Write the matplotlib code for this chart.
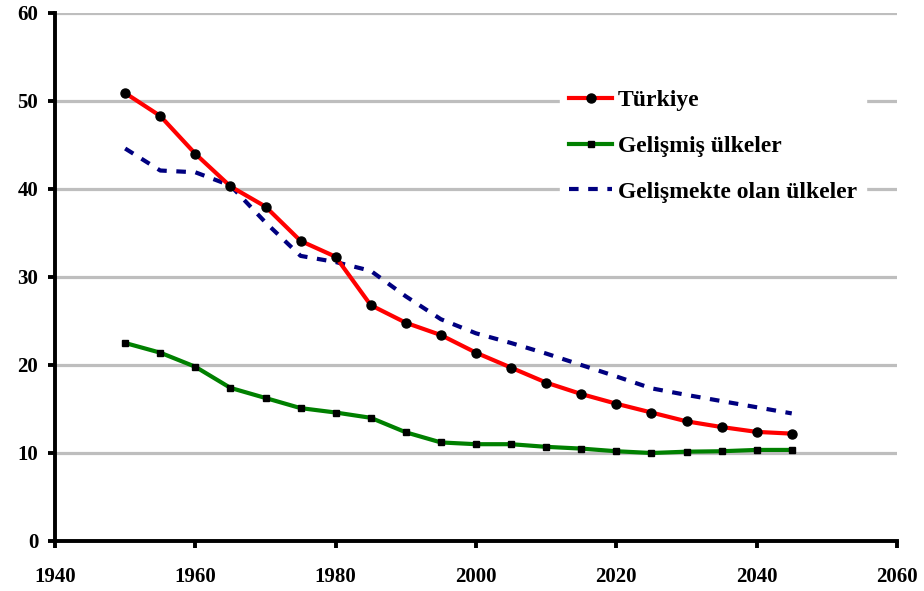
import matplotlib
matplotlib.use("Agg")
import matplotlib.pyplot as plt

years = [1950, 1955, 1960, 1965, 1970, 1975, 1980, 1985, 1990, 1995,
         2000, 2005, 2010, 2015, 2020, 2025, 2030, 2035, 2040, 2045]
turkiye = [50.9, 48.3, 44.0, 40.3, 38.0, 34.1, 32.3, 26.8, 24.8, 23.4,
           21.4, 19.7, 18.0, 16.7, 15.6, 14.6, 13.6, 12.95, 12.4, 12.2]
gelismis = [22.5, 21.4, 19.8, 17.4, 16.25, 15.1, 14.6, 14.0, 12.35, 11.2,
            11.0, 11.0, 10.7, 10.5, 10.2, 10.0, 10.15, 10.2, 10.35, 10.35]
gelismekte = [44.6, 42.1, 41.9, 40.4, 36.2, 32.4, 31.7, 30.7, 27.8, 25.2,
              23.6, 22.5, 21.3, 20.0, 18.7, 17.35, 16.6, 15.9, 15.2, 14.5]
labels = ["Türkiye", "Gelişmiş ülkeler", "Gelişmekte olan ülkeler"]
xticks = [1940, 1960, 1980, 2000, 2020, 2040, 2060]
yticks = [0, 10, 20, 30, 40, 50, 60]

plt.rcParams['font.family'] = ['Liberation Serif', 'DejaVu Serif']
plt.rcParams['font.weight'] = 'bold'

fig = plt.figure(figsize=(9.24, 5.91), dpi=100)
ax = fig.add_axes([55/924, 1-541/591, (897-55)/924, (541-13)/591])

ax.plot(years, turkiye, color='#FF0000', lw=3, marker='o', markersize=6.5,
        markerfacecolor='black', markeredgecolor='black', label=labels[0], zorder=4)
ax.plot(years, gelismis, color='#008000', lw=3, marker='s', markersize=4.5,
        markerfacecolor='black', markeredgecolor='black', label=labels[1], zorder=4)
ax.plot(years, gelismekte, color='#000080', lw=3, linestyle=(0, (2.3, 2.3)),
        label=labels[2], zorder=3)

ax.set_xlim(1940, 2060)
ax.set_ylim(0, 60)
ax.set_xticks(xticks)
ax.set_yticks(yticks)
ax.yaxis.grid(True, color='#BEBEBE', lw=2.3)
ax.set_axisbelow(True)
for s in ['top', 'right']:
    ax.spines[s].set_visible(False)
for s in ['left', 'bottom']:
    ax.spines[s].set_linewidth(2.8)
    ax.spines[s].set_zorder(5)
ax.tick_params(axis='both', width=2.8, length=5, labelsize=15, direction='out')
ax.tick_params(axis='x', pad=13.5)
ax.tick_params(axis='y', pad=7)
for t in ax.get_xticklabels() + ax.get_yticklabels():
    t.set_fontweight('bold')

leg = ax.legend(loc='upper left', bbox_to_anchor=((560-55)/842, 1-(80-13)/528),
                frameon=True, fontsize=17, handlelength=1.8, handletextpad=0.25,
                labelspacing=1.03, borderpad=0.4, borderaxespad=0)
leg.get_frame().set_edgecolor('white')
leg.get_frame().set_facecolor('white')
leg.get_frame().set_alpha(1)
leg.get_frame().set_boxstyle('square', pad=0)
for t in leg.get_texts():
    t.set_fontweight('bold')

fig.savefig('out.png', dpi=100)
